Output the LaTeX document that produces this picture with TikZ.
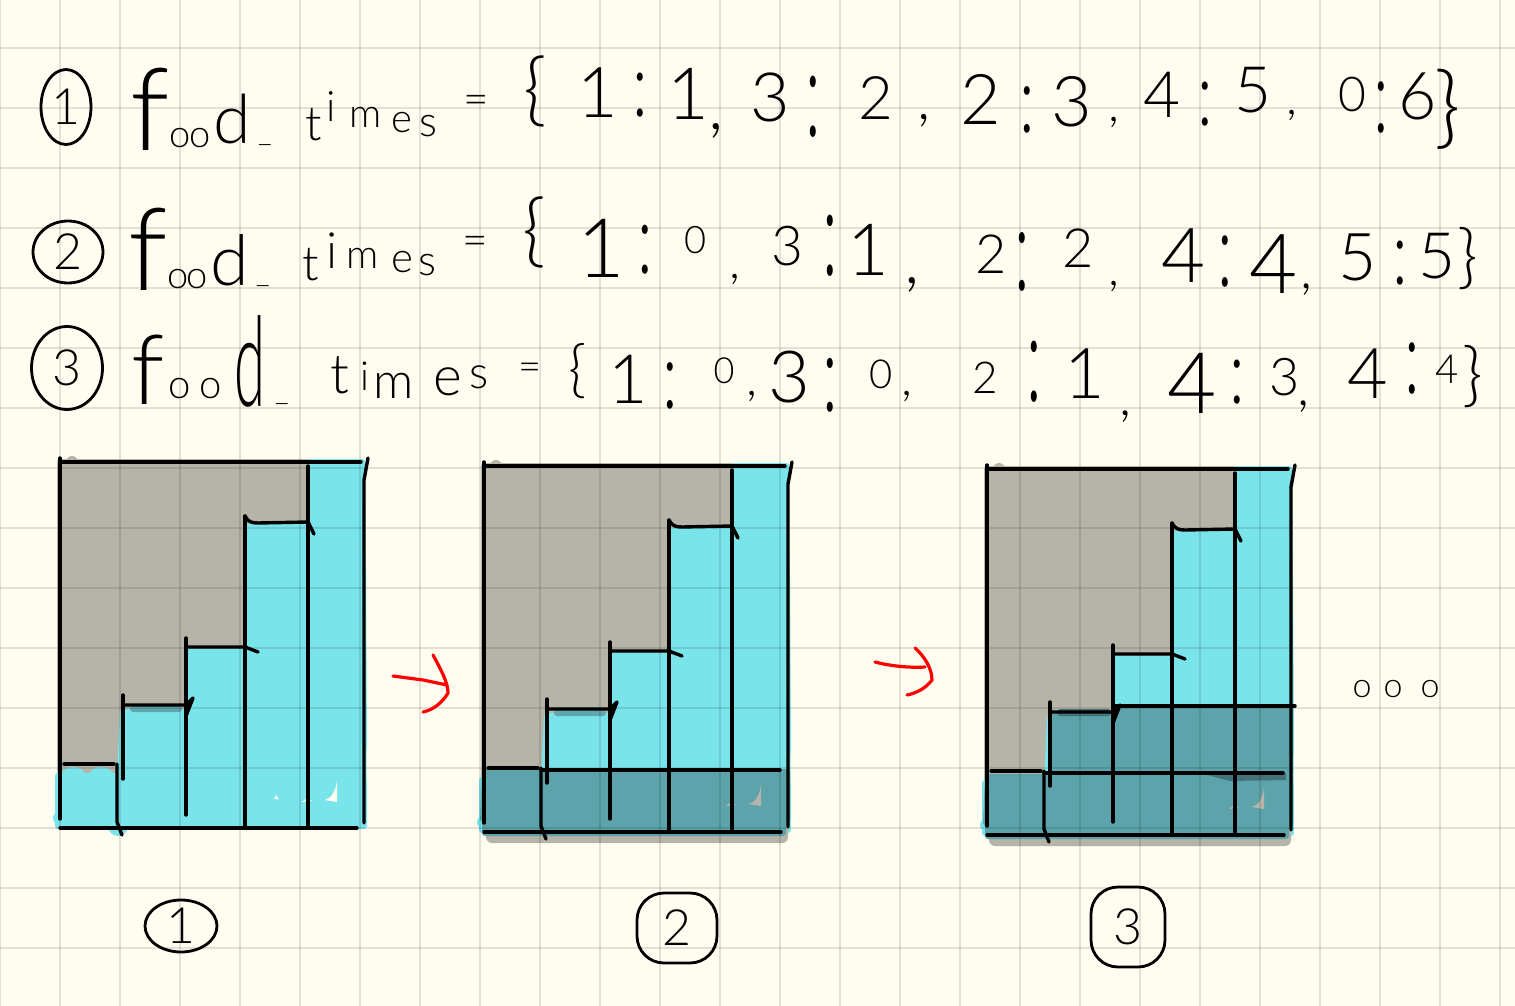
\documentclass[tikz,border=0pt]{standalone}
\usepackage{fontspec}
\usetikzlibrary{shapes.geometric}
\newfontfamily\handfont{Lato Light}
\definecolor{paper}{HTML}{FFFDF0}
\definecolor{greyfill}{HTML}{B6B4A8}
\definecolor{cyanfill}{HTML}{7AE4EB}
\definecolor{darkfill}{HTML}{5CA3AB}
\definecolor{tealfill}{HTML}{62A6AD}
\definecolor{overlapfill}{HTML}{44727A}
\tikzset{
  gridline/.style={black, opacity=.11, line width=2.4pt},
  pen/.style={black, line width=3.4pt, line cap=round, line join=round},
  redpen/.style={red, line width=3.2pt, line cap=round, line join=round},
  hand/.style={inner sep=0pt, anchor=base, font=\handfont},
  numring/.style={draw, ellipse, black, line width=2.8pt, inner sep=0pt, font=\handfont\fontsize{50}{50}\selectfont},
  numbox/.style={draw, rectangle, rounded corners=27pt, black, line width=2.8pt, inner sep=0pt, font=\handfont\fontsize{50}{50}\selectfont}
}
\begin{document}
\begin{tikzpicture}[x=1pt,y=-1pt]
\useasboundingbox (0,0) rectangle (1515,1006);
\fill[paper] (0,0) rectangle (1515,1006);
% coloured stairs
\foreach \px/\py/\speck in {0/0/paper,424/4/greyfill,927/7/greyfill} {
  \begin{scope}[shift={(\px,\py)}]
    \fill[greyfill, draw=greyfill, line width=6pt, line join=round] (60,462) rectangle (362,826);
    \fill[greyfill] (72,462) circle (6);
    \fill[cyanfill, draw=cyanfill, line width=6pt, line join=round] (58,776) -- (120,776) -- (123,712) -- (188,712)
      -- (188,652) -- (248,652) -- (248,527) -- (310,527) -- (310,462) -- (362,462) -- (364,826) -- (58,826) -- cycle;
    \fill[cyanfill] (73,782) circle (15) (101,782) circle (15) (60,818) circle (7) (118,826) circle (10);
    \fill[cyanfill, rounded corners=3pt] (360,560) -- (366,570) -- (367,750) -- (360,760) -- cycle;
    \fill[tealfill, rounded corners=3pt] (130,706) rectangle (182,712);
    \fill[\speck] (337,780) .. controls (336,790) and (332,798) .. (325,800) -- (337,802) -- cycle;
    \fill[\speck] (302,802) -- (307,798) -- (312,801) -- cycle;
    \fill[\speck] (276,795) -- (279,799) -- (274,799) -- cycle;
  \end{scope}
}
% chosen rows
\fill[greyfill, rounded corners=6pt] (486,815) rectangle (788,843);
\fill[darkfill, rounded corners=3pt] (482,769) -- (790,769) -- (790,822) -- (480,822) -- cycle;
\fill[darkfill, rounded corners=3pt] (482,818) rectangle (786,836);
\fill[darkfill] (497,781) circle (15) (525,781) circle (15);
\fill[greyfill] (761,784) .. controls (760,794) and (756,802) .. (749,804) -- (761,806) -- cycle;
\fill[greyfill] (726,806) -- (731,802) -- (736,805) -- cycle;
\fill[greyfill, rounded corners=6pt] (989,820) rectangle (1291,846);
\fill[darkfill, rounded corners=3pt] (985,774) -- (1293,774) -- (1293,826) -- (983,826) -- cycle;
\fill[darkfill, rounded corners=3pt] (985,822) rectangle (1289,839);
\fill[darkfill, rounded corners=3pt] (1052,712) -- (1113,712) -- (1113,706) -- (1293,706) -- (1293,776) -- (1052,776) -- cycle;
\fill[overlapfill] (1200,773) -- (1286,773) -- (1286,780) -- (1230,781) -- cycle;
\fill[overlapfill, rounded corners=3pt] (1057,709) rectangle (1111,716);
\fill[greyfill] (1264,787) .. controls (1263,797) and (1259,805) .. (1252,807) -- (1264,809) -- cycle;
\fill[greyfill] (1229,809) -- (1234,805) -- (1239,808) -- cycle;
% paper lines
\foreach \x in {0,60,...,1500}
  \draw[gridline] (\x,0) -- (\x,1006);
\foreach \y in {48,108,...,1008}
  \draw[gridline] (0,\y) -- (1515,\y);
% black strokes of each panel
\foreach \px/\py in {0/0,424/4,927/7} {
  \begin{scope}[shift={(\px,\py)}]
    \draw[pen] (60,458) -- (60,819);
    \draw[pen] (60,462) -- (361,462);
    \draw[pen] (368,458) -- (364,480) -- (364,823);
    \draw[pen] (60,828) -- (357,828);
    \draw[pen] (64,764) -- (114,764);
    \draw[pen] (117,764) -- (117,822) -- (122,835);
    \draw[pen] (123,695) -- (123,779);
    \draw[pen] (124,705) -- (186,705) -- (193,698) -- (186,716);
    \draw[pen] (186,638) -- (186,815);
    \draw[pen] (187,647) -- (245,647) -- (258,652);
    \draw[pen] (245,516) -- (245,828);
    \draw[pen] (245,516) .. controls (248,522) and (252,523) .. (258,523) -- (308,522) -- (314,534);
    \draw[pen] (308,466) -- (308,825);
  \end{scope}
}
\draw[pen] (541,770) -- (780,770);
\draw[pen] (1044,773) -- (1283,773);
\draw[pen] (1113,706) -- (1295,706);
% text, one hand written mark after the other
\foreach \x/\y/\s/\c in {
  150/150/115/f,180/148/38/o,200/148/38/o,232/143/68/d,265/142/30/\_,
  314/140/48/t,331/122/42/i,366/128/40/m,402/133/40/e,428/137/42/s,476/115/44/=,535/117/80/\{,
  598/118/70/1,688/120/72/1,716/130/70/{,},770/122/68/3,876/120/60/2,924/120/60/{,},
  981/125/70/2,1072/127/70/3,1114/122/50/{,},1162/118/64/4,1253/113/64/5,
  1292/115/50/{,},1352/112/48/0,1418/120/66/6,1448/138/90/\},
  148/290/115/f,178/288/38/o,197/288/38/o,230/285/70/d,263/282/30/\_,
  311/280/48/t,332/268/50/i,363/268/40/m,402/272/42/e,427/275/42/s,475/255/44/=,534/257/80/\{,
  601/277/82/1,696/253/38/0,735/278/50/{,},787/265/55/3,868/275/72/1,912/283/70/{,},
  991/273/54/2,1078/267/54/2,1114/285/50/{,},1184/282/76/4,1274/293/83/4,
  1307/288/55/{,},1358/280/66/5,1437/278/64/5,1468/280/70/\},
  148/404/97/f,180/398/40/o,211/398/40/o,282/400/30/\_,
  340/393/55/t,365/390/40/i,394/398/50/m,448/395/55/e,479/388/45/s,530/380/40/=,578/390/62/\{,
  628/403/68/1,724/383/36/0,752/395/50/{,},789/402/72/3,881/388/40/0,907/395/50/{,},
  985/393/44/2,1085/398/70/1,1126/415/55/{,},1192/413/85/4,1285/395/52/3,
  1304/405/55/{,},1368/398/70/4,1447/383/40/4,1473/398/70/\},
  1362/697/34/o,1393/697/34/o,1430/697/34/o}
  \node[hand] (tok-\x-\y) at (\x,\y) {\fontsize{\s}{\s}\selectfont \c};
% the colons are tall and thin
\foreach \x/\y/\s in {
  640/117/90,813/136/125,1027/133/95,1205/125/90,1381/133/105,
  645/273/100,830/275/125,1022/290/120,1225/286/105,1400/284/90,
  670/408/95,830/411/110,1034/401/125,1237/403/90,1412/393/105}
  \node[hand, transform shape, yscale=\s/65] (colon-\x-\y) at (\x,\y) {\fontsize{65}{65}\selectfont :};
\node[hand, transform shape, xscale=.45] (tall-d) at (250,406) {\fontsize{125}{125}\selectfont d};
% numbered rings
\node[numring, minimum width=50pt, minimum height=75pt] (ring-a) at (66,107) {1};
\node[numring, minimum width=70pt, minimum height=62pt] (ring-b) at (68,252) {2};
\node[numring, minimum width=71pt, minimum height=83pt] (ring-c) at (67,368) {3};
\node[numring, minimum width=72pt, minimum height=52pt] (ring-d) at (181,926) {1};
\node[numbox, minimum width=80pt, minimum height=70pt] (ring-e) at (677,928) {2};
\node[numbox, minimum width=74pt, minimum height=80pt] (ring-f) at (1128,927) {3};
% red arrows
\coordinate (from-a) at (393,676);
\coordinate (to-a) at (447,685);
\coordinate (from-b) at (875,662);
\coordinate (to-b) at (925,667);
\draw[redpen] (from-a) -- (423,680) -- (to-a);
\draw[redpen] (433,655) .. controls (440,668) and (448,682) .. (448,693) .. controls (442,703) and (433,710) .. (423,712);
\draw[redpen] (from-b) .. controls (890,666) and (910,668) .. (to-b);
\draw[redpen] (915,648) .. controls (924,656) and (932,668) .. (932,680) .. controls (926,688) and (917,693) .. (907,695);
\end{tikzpicture}
\end{document}
